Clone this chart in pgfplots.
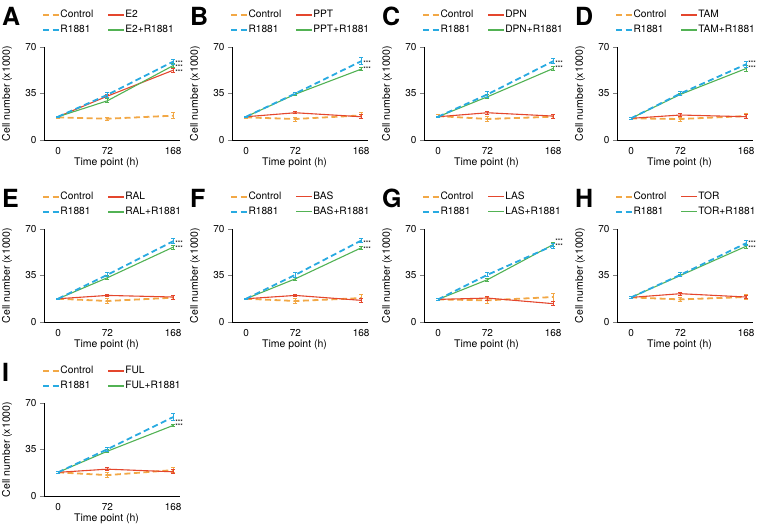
\documentclass[border=0pt]{standalone}
\usepackage{pgfplots}
\pgfplotsset{compat=1.18}
\usepackage{fontspec}
\setmainfont{TeX Gyre Heros}

\definecolor{ctrlorange}{RGB}{242,168,70}
\definecolor{ronblue}{RGB}{40,170,225}
\definecolor{drugred}{RGB}{228,70,45}
\definecolor{combgreen}{RGB}{82,178,84}

\tikzset{
  ctrlline/.style={draw=ctrlorange, color=ctrlorange, line width=1.8pt, dash pattern=on 6pt off 3.5pt},
  blueline/.style={draw=ronblue, color=ronblue, line width=1.8pt, dash pattern=on 6pt off 3.5pt},
  redline/.style={draw=drugred, color=drugred, line width=1.1pt},
  greenline/.style={draw=combgreen, color=combgreen, line width=1.1pt},
  stars/.style={anchor=west, inner sep=0pt, yshift=-1.5pt, font=\fontsize{6.5}{7}\selectfont},
  letter/.style={anchor=north west, inner sep=0pt, xshift=-42pt, yshift=40pt,
    font=\fontsize{25}{25}\selectfont\bfseries},
}
\pgfplotsset{
  ebar/.style={error bars/y dir=both, error bars/y explicit,
    error bars/error bar style={solid, line width=0.8pt},
    error bars/error mark options={rotate=90, mark size=2pt, line width=0.8pt, solid}},
  panel/.style={
    scale only axis, width=136pt, height=93pt, anchor=south west,
    xmin=-20.5, xmax=178, ymin=0, ymax=70,
    axis lines=left, axis line style={-, line width=0.9pt},
    xtick={0,72,168}, ytick={0,35,70},
    xtick style={draw=none}, ytick style={line width=0.9pt},
    tick align=outside, major tick length=4pt,
    tick label style={font=\fontsize{10}{12}\selectfont},
    /pgf/number format/assume math mode=true,
    clip=false,
    xlabel={Time point (h)}, ylabel={Cell number (x1000)},
    every axis x label/.style={at={(axis description cs:0.46,0)}, yshift=-23pt, anchor=center,
      font=\fontsize{10.5}{12}\selectfont},
    every axis y label/.style={at={(axis description cs:0,0.5)}, xshift=-37pt, rotate=90, anchor=center,
      font=\fontsize{10.5}{12}\selectfont},
    legend style={draw=none, fill=none, at={(axis description cs:0,1)}, anchor=south west,
      xshift=-2pt, yshift=11.5pt, inner sep=0pt,
      row sep=4pt, nodes={inner sep=1pt, font=\fontsize{10.2}{12}\selectfont},
      /tikz/column 2/.style={column sep=13pt}},
    legend columns=2, legend cell align=left,
    legend image code/.code={\draw[#1] (0pt,0pt) -- (15.5pt,0pt);},
  },
}

\newcommand\drugs[1]{%
  \addlegendimage{draw=ctrlorange, line width=1.8pt, dash pattern=on 6pt off 3.5pt}\addlegendentry{Control}
  \addlegendimage{draw=drugred, color=drugred, line width=1.5pt, solid}\addlegendentry{#1}
  \addlegendimage{draw=ronblue, line width=1.8pt, dash pattern=on 6pt off 3.5pt}\addlegendentry{R1881}
  \addlegendimage{draw=combgreen, color=combgreen, line width=1.5pt, solid}\addlegendentry{#1+R1881}}

\begin{document}
\begin{tikzpicture}
\useasboundingbox (0,0) rectangle (758pt,526pt);

% ---- A: E2
\begin{axis}[panel, at={(44pt,386pt)}]
\drugs{E2}
\addplot[ctrlline, forget plot, ebar] coordinates {(0,17) +- (0,0.5) (72,16) +- (0,1) (168,18.3) +- (0,2.2)};
\addplot[redline, forget plot, ebar] coordinates {(0,17.5) +- (0,0.5) (72,33) +- (0,1) (168,52.5) +- (0,1.5)};
\addplot[greenline, forget plot, ebar] coordinates {(0,17.5) +- (0,0.5) (72,29.5) +- (0,1.5) (168,56) +- (0,1.5)};
\addplot[blueline, forget plot, ebar] coordinates {(0,17.5) +- (0,0.5) (72,34) +- (0,2) (168,59) +- (0,1.8)};
\node[stars] at (axis cs:171,59.3) {***};
\node[stars] at (axis cs:171,55.8) {***};
\node[stars] at (axis cs:171,52.3) {***};
\node[letter] at (rel axis cs:0,1) {A};
\end{axis}

% ---- B: PPT
\begin{axis}[panel, at={(232pt,386pt)}]
\drugs{PPT}
\addplot[ctrlline, forget plot, ebar] coordinates {(0,17) +- (0,0.5) (72,15.8) +- (0,1.5) (168,18.5) +- (0,2.5)};
\addplot[redline, forget plot, ebar] coordinates {(0,17.5) +- (0,0.5) (72,20.5) +- (0,0.8) (168,17.5) +- (0,1.5)};
\addplot[greenline, forget plot, ebar] coordinates {(0,17.5) +- (0,0.5) (72,34.5) +- (0,1) (168,53.3) +- (0,1)};
\addplot[blueline, forget plot, ebar] coordinates {(0,17.5) +- (0,0.5) (72,35) +- (0,1) (168,59.3) +- (0,2.5)};
\node[stars] at (axis cs:171,58.8) {***};
\node[stars] at (axis cs:171,54.3) {***};
\node[letter] at (rel axis cs:0,1) {B};
\end{axis}

% ---- C: DPN
\begin{axis}[panel, at={(424pt,386pt)}]
\drugs{DPN}
\addplot[ctrlline, forget plot, ebar] coordinates {(0,18) +- (0,1) (72,15.8) +- (0,2) (168,17.5) +- (0,1.5)};
\addplot[redline, forget plot, ebar] coordinates {(0,17.5) +- (0,0.5) (72,20.5) +- (0,1) (168,18) +- (0,1.5)};
\addplot[greenline, forget plot, ebar] coordinates {(0,17.5) +- (0,0.5) (72,32.5) +- (0,1.5) (168,53.8) +- (0,1.5)};
\addplot[blueline, forget plot, ebar] coordinates {(0,17.5) +- (0,0.5) (72,34.3) +- (0,2) (168,59.3) +- (0,2)};
\node[stars] at (axis cs:171,58.8) {***};
\node[stars] at (axis cs:171,55) {***};
\node[letter] at (rel axis cs:0,1) {C};
\end{axis}

% ---- D: TAM
\begin{axis}[panel, at={(617pt,386pt)}]
\drugs{TAM}
\addplot[ctrlline, forget plot, ebar] coordinates {(0,16.3) +- (0,0.5) (72,15.8) +- (0,1.5) (168,18) +- (0,1.8)};
\addplot[redline, forget plot, ebar] coordinates {(0,16.3) +- (0,0.5) (72,18.8) +- (0,1) (168,17.5) +- (0,1.5)};
\addplot[greenline, forget plot, ebar] coordinates {(0,16.3) +- (0,0.5) (72,34.3) +- (0,1) (168,53.8) +- (0,2)};
\addplot[blueline, forget plot, ebar] coordinates {(0,16.3) +- (0,0.5) (72,35) +- (0,1.5) (168,57) +- (0,2.5)};
\node[stars] at (axis cs:171,59) {***};
\node[stars] at (axis cs:171,55) {***};
\node[letter] at (rel axis cs:0,1) {D};
\end{axis}

% ---- E: RAL
\begin{axis}[panel, at={(44pt,204pt)}]
\drugs{RAL}
\addplot[ctrlline, forget plot, ebar] coordinates {(0,17.5) +- (0,0.5) (72,15.8) +- (0,2) (168,18.3) +- (0,1.5)};
\addplot[redline, forget plot, ebar] coordinates {(0,17.5) +- (0,0.5) (72,20) +- (0,1) (168,18.8) +- (0,1.5)};
\addplot[greenline, forget plot, ebar] coordinates {(0,17.5) +- (0,0.5) (72,33.3) +- (0,1.5) (168,56.3) +- (0,1.5)};
\addplot[blueline, forget plot, ebar] coordinates {(0,17.5) +- (0,0.5) (72,35.5) +- (0,1.5) (168,60.8) +- (0,2)};
\node[stars] at (axis cs:171,60.8) {***};
\node[stars] at (axis cs:171,56.8) {***};
\node[letter] at (rel axis cs:0,1) {E};
\end{axis}

% ---- F: BAS
\begin{axis}[panel, at={(232pt,204pt)}]
\drugs{BAS}
\addplot[ctrlline, forget plot, ebar] coordinates {(0,17.5) +- (0,0.5) (72,15.8) +- (0,2) (168,18) +- (0,3)};
\addplot[redline, forget plot, ebar] coordinates {(0,17.5) +- (0,0.5) (72,20) +- (0,1) (168,16.3) +- (0,1.5)};
\addplot[greenline, forget plot, ebar] coordinates {(0,17.5) +- (0,0.5) (72,32.5) +- (0,1) (168,55.8) +- (0,1)};
\addplot[blueline, forget plot, ebar] coordinates {(0,17.5) +- (0,0.5) (72,35.5) +- (0,2) (168,61.3) +- (0,1.5)};
\node[stars] at (axis cs:171,60.8) {***};
\node[stars] at (axis cs:171,56.3) {***};
\node[letter] at (rel axis cs:0,1) {F};
\end{axis}

% ---- G: LAS
\begin{axis}[panel, at={(424pt,204pt)}]
\drugs{LAS}
\addplot[ctrlline, forget plot, ebar] coordinates {(0,17) +- (0,0.5) (72,16.3) +- (0,2) (168,18.8) +- (0,3)};
\addplot[redline, forget plot, ebar] coordinates {(0,17) +- (0,0.5) (72,18) +- (0,1.5) (168,13.8) +- (0,1.5)};
\addplot[greenline, forget plot, ebar] coordinates {(0,17) +- (0,0.5) (72,31.8) +- (0,1) (168,58.3) +- (0,1.5)};
\addplot[blueline, forget plot, ebar] coordinates {(0,17) +- (0,0.5) (72,35.5) +- (0,1.5) (168,57.5) +- (0,2)};
\node[stars] at (axis cs:171,62) {***};
\node[stars] at (axis cs:171,58.3) {***};
\node[letter] at (rel axis cs:0,1) {G};
\end{axis}

% ---- H: TOR
\begin{axis}[panel, at={(617pt,204pt)}]
\drugs{TOR}
\addplot[ctrlline, forget plot, ebar] coordinates {(0,18.5) +- (0,0.5) (72,17) +- (0,1.5) (168,18.8) +- (0,2)};
\addplot[redline, forget plot, ebar] coordinates {(0,18.5) +- (0,0.5) (72,21.3) +- (0,1) (168,18.8) +- (0,1)};
\addplot[greenline, forget plot, ebar] coordinates {(0,18.5) +- (0,0.5) (72,35) +- (0,1) (168,57) +- (0,1.5)};
\addplot[blueline, forget plot, ebar] coordinates {(0,18.5) +- (0,0.5) (72,35.5) +- (0,1.5) (168,59.3) +- (0,2)};
\node[stars] at (axis cs:171,60.8) {***};
\node[stars] at (axis cs:171,56.8) {***};
\node[letter] at (rel axis cs:0,1) {H};
\end{axis}

% ---- I: FUL
\begin{axis}[panel, at={(44pt,30pt)}]
\drugs{FUL}
\addplot[ctrlline, forget plot, ebar] coordinates {(0,17.8) +- (0,0.5) (72,15.7) +- (0,2) (168,19.5) +- (0,2)};
\addplot[redline, forget plot, ebar] coordinates {(0,17.8) +- (0,0.5) (72,20.2) +- (0,1) (168,18.2) +- (0,1.5)};
\addplot[greenline, forget plot, ebar] coordinates {(0,17.8) +- (0,0.5) (72,33.7) +- (0,1) (168,53.1) +- (0,1)};
\addplot[blueline, forget plot, ebar] coordinates {(0,17.8) +- (0,0.5) (72,35.2) +- (0,1.5) (168,59.4) +- (0,2.5)};
\node[stars] at (axis cs:171,56.9) {***};
\node[stars] at (axis cs:171,53.4) {***};
\node[letter] at (rel axis cs:0,1) {I};
\end{axis}
\end{tikzpicture}
\end{document}
